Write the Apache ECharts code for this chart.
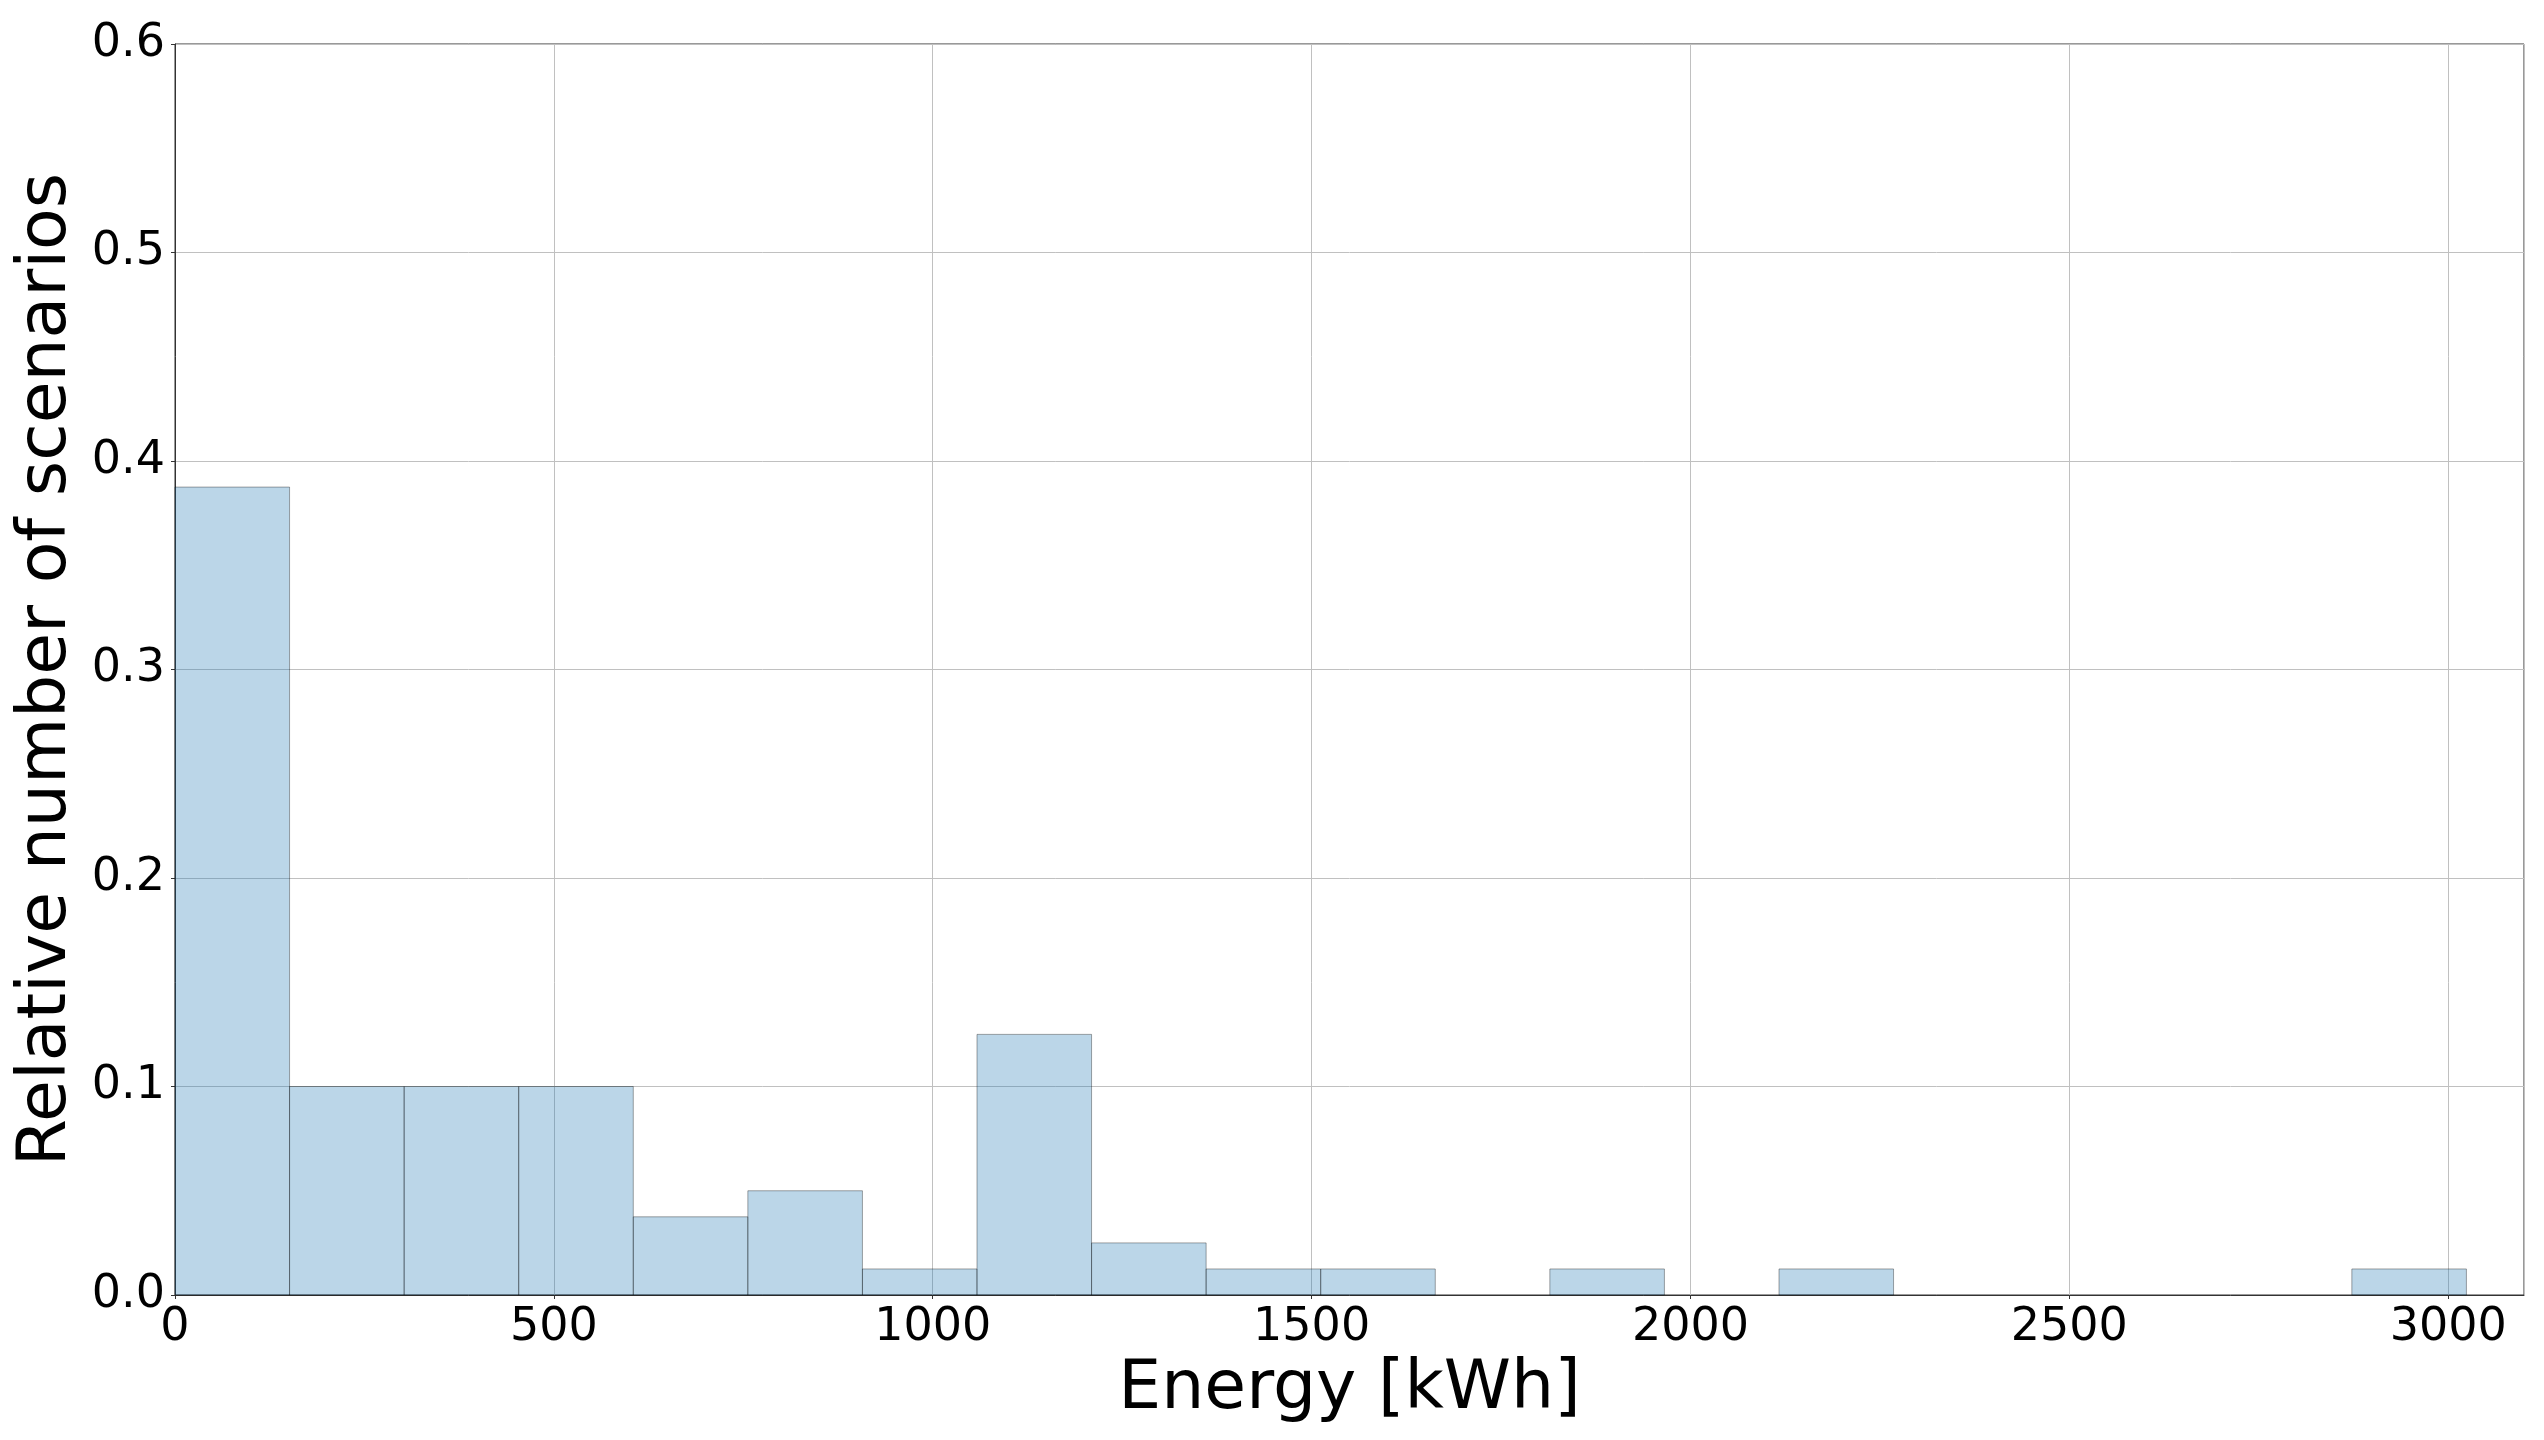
<!DOCTYPE html>
<html>
<head>
<meta charset="utf-8">
<script src="https://cdn.jsdelivr.net/npm/echarts@6/dist/echarts.min.js"></script>
<style>
  html, body { margin: 0; padding: 0; background: #fff; }
  #chart { width: 2544px; height: 1440px; }
</style>
</head>
<body>
<div id="chart"></div>
<script>
// histogram bins (kWh) and relative number of scenarios per bin
var binEdges = [0, 151.2, 302.4, 453.6, 604.8, 756, 907.2, 1058.4, 1209.6, 1360.8, 1512,
                1663.2, 1814.4, 1965.6, 2116.8, 2268, 2419.2, 2570.4, 2721.6, 2872.8, 3024];
var relFreq  = [0.3875, 0.1, 0.1, 0.1, 0.0375, 0.05, 0.0125, 0.125, 0.025, 0.0125,
                0.0125, 0, 0.0125, 0, 0.0125, 0, 0, 0, 0, 0.0125];
var xTicks = [0, 500, 1000, 1500, 2000, 2500, 3000];
var yTicks = [0.0, 0.1, 0.2, 0.3, 0.4, 0.5, 0.6];

var x_name = 'Energy [kWh]';
var y_name = 'Relative number of scenarios';

(function(){

    var chart = echarts.init(document.getElementById('chart'));
    var font = 'DejaVu Sans';

    var bins = [];
    relFreq.forEach(function (v, i) {
        if (v > 0) bins.push([binEdges[i], binEdges[i + 1], v]);
    });

    var option = {
        animation: false,
        grid: {
            left: 175, right: 20, top: 44, bottom: 145,
            show: true, borderColor: '#333', borderWidth: 1
        },
        xAxis: {
            type: 'value',
            min: 0, max: 3100, interval: 500,
            name: x_name,
            nameLocation: 'middle',
            nameGap: 50,
            nameTextStyle: { fontFamily: font, fontSize: 68, color: '#000' },
            axisLine: { show: true, onZero: false, lineStyle: { color: '#333', width: 1 } },
            axisTick: { show: true, length: 4, lineStyle: { color: '#333' } },
            axisLabel: {
                fontFamily: font, fontSize: 46, color: '#000', margin: 10,
                showMaxLabel: false,
                formatter: function (v) { return xTicks.indexOf(v) >= 0 ? String(v) : ''; }
            },
            splitLine: { show: true, lineStyle: { color: '#c0c0c0', width: 1 } }
        },
        yAxis: {
            type: 'value',
            min: 0, max: 0.6, interval: 0.1,
            name: y_name,
            nameLocation: 'middle',
            nameGap: 90,
            nameTextStyle: { fontFamily: font, fontSize: 68, color: '#000' },
            axisLine: { show: true, lineStyle: { color: '#333', width: 1 } },
            axisTick: { show: true, length: 4, lineStyle: { color: '#333' } },
            axisLabel: {
                fontFamily: font, fontSize: 46, color: '#000', margin: 10,
                formatter: function (v) { return v.toFixed(1); }
            },
            splitLine: { show: true, lineStyle: { color: '#c0c0c0', width: 1 } }
        },
        series: [{
            type: 'custom',
            data: bins,
            encode: { x: [0, 1], y: 2 },
            renderItem: function (params, api) {
                var p0 = api.coord([api.value(0), api.value(2)]);
                var p1 = api.coord([api.value(1), 0]);
                return {
                    type: 'rect',
                    shape: { x: p0[0], y: p0[1], width: p1[0] - p0[0], height: p1[1] - p0[1] },
                    style: { fill: 'rgba(31,119,180,0.3)', stroke: 'rgba(0,0,0,0.35)', lineWidth: 1 }
                };
            }
        }]
    };

    chart.setOption(option);

})();
</script>
</body>
</html>
